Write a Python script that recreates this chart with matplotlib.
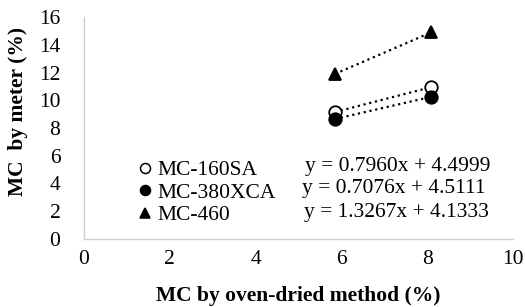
import matplotlib
matplotlib.use("Agg")
import matplotlib.pyplot as plt
from matplotlib.lines import Line2D

plt.rcParams['font.family'] = ['Liberation Serif', 'DejaVu Serif']

series = ["MC-160SA", "MC-380XCA", "MC-460"]
x_vals = [5.85, 8.1]
y_160 = [9.15, 10.95]
y_380 = [8.65, 10.25]
y_460 = [11.9, 14.9]
equations = ["y = 0.7960x + 4.4999", "y = 0.7076x + 4.5111", "y = 1.3267x + 4.1333"]
x_ticks = [0, 2, 4, 6, 8, 10]
y_ticks = [0, 2, 4, 6, 8, 10, 12, 14, 16]

W, H = 525, 307
fig = plt.figure(figsize=(W / 100, H / 100), dpi=100)
ax = fig.add_axes([84 / W, 1 - 239 / H, (513 - 84) / W, (239 - 17) / H])

FS = 15.5
styles = [dict(marker='o', mfc='white', mec='black'),
          dict(marker='o', mfc='black', mec='black'),
          dict(marker='^', mfc='black', mec='black')]
for ys, st in zip([y_160, y_380, y_460], styles):
    ax.plot(x_vals, ys, linestyle=':', color='black', lw=1.6, markersize=9,
            mew=1.3, zorder=3, clip_on=False, **st)

ax.set_xlim(0, 10)
ax.set_ylim(0, 16)
ax.set_xticks(x_ticks)
ax.set_yticks(y_ticks)
ax.tick_params(length=0, labelsize=FS)
ax.tick_params(axis='y', pad=17)
ax.tick_params(axis='x', pad=8)
for s in ['top', 'right']:
    ax.spines[s].set_visible(False)
for s in ['left', 'bottom']:
    ax.spines[s].set_color('#d0d0d0')
    ax.spines[s].set_linewidth(1)

ax.set_xlabel("MC by oven-dried method (%)", fontsize=FS, fontweight='bold', labelpad=12)
ax.set_ylabel("MC  by meter (%)", fontsize=FS, fontweight='bold')
ax.yaxis.set_label_coords(-0.13, 0.574)

handles = [Line2D([], [], linestyle='none', markersize=7.2, mew=1.1, **st) for st in styles]
leg = fig.legend(handles, series, loc='upper left', bbox_to_anchor=(134 / W, 1 - 160 / H),
                 bbox_transform=fig.transFigure, frameon=False, fontsize=FS,
                 handletextpad=0.1, handlelength=1.0, labelspacing=0.12,
                 borderaxespad=0, borderpad=0)

eq_x = [305, 302, 304]
eq_y = [167, 189, 212]
for t, xx, yy in zip(equations, eq_x, eq_y):
    fig.text(xx / W, 1 - yy / H, t, fontsize=FS, va='center', ha='left')

fig.savefig("out.png", dpi=100)
